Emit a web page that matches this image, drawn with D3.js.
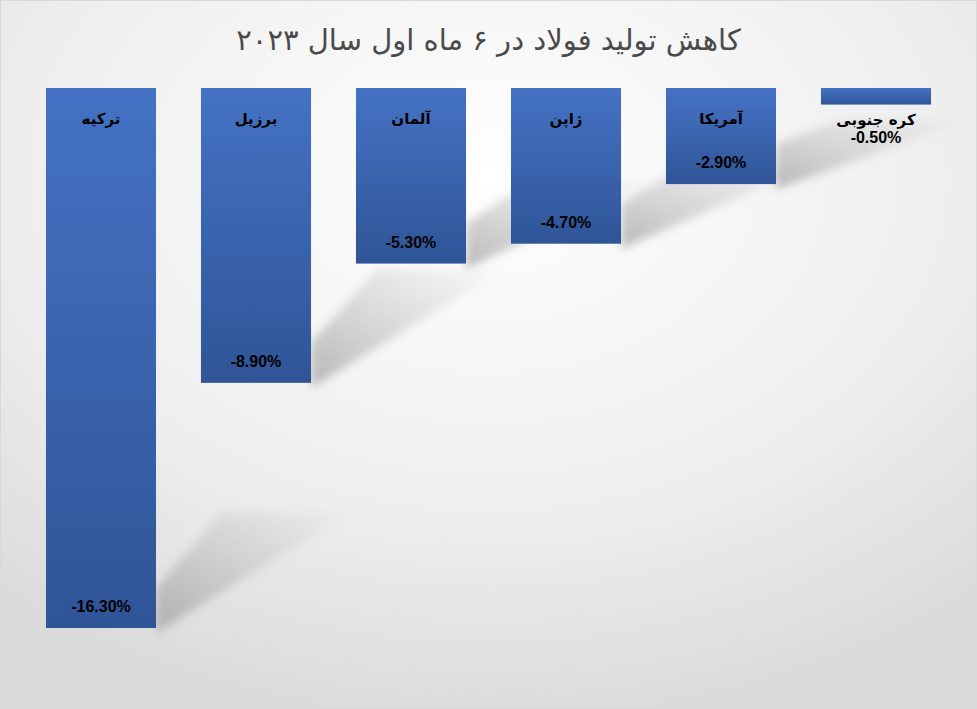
<!DOCTYPE html>
<html><head><meta charset="utf-8">
<script src="https://cdn.jsdelivr.net/npm/d3@7/dist/d3.min.js"></script>
<style>body{margin:0;background:#fff}svg{display:block}</style>
</head><body>
<script>
const categories = ["ترکیه","برزیل","آلمان","ژاپن","آمریکا","کره جنوبی"];
const values = [-16.3,-8.9,-5.3,-4.7,-2.9,-0.5];
const labels = ["-16.30%","-8.90%","-5.30%","-4.70%","-2.90%","-0.50%"];
const W=977,H=709;
const svg=d3.select("body").append("svg").attr("width",W).attr("height",H);
const defs=svg.append("defs");
const rg=defs.append("radialGradient").attr("id","bg").attr("cx","50%").attr("cy","25%").attr("r","80%");
rg.append("stop").attr("offset","0%").attr("stop-color","#ffffff");
rg.append("stop").attr("offset","60%").attr("stop-color","#eeeeee");
rg.append("stop").attr("offset","100%").attr("stop-color","#d9d9d9");
const bg=defs.append("linearGradient").attr("id","bar").attr("x1",0).attr("y1",0).attr("x2",0).attr("y2",1);
bg.append("stop").attr("offset","0%").attr("stop-color","#4472c4");
bg.append("stop").attr("offset","100%").attr("stop-color","#2f5597");
defs.append("filter").attr("id","blur").append("feGaussianBlur").attr("stdDeviation",5);
const sg=defs.append("linearGradient").attr("id","sh").attr("x1",0).attr("y1",1).attr("x2",1).attr("y2",0);
sg.append("stop").attr("offset","0%").attr("stop-color","#999").attr("stop-opacity",0.9);
sg.append("stop").attr("offset","100%").attr("stop-color","#bbb").attr("stop-opacity",0.05);
svg.append("rect").attr("x",0.5).attr("y",0.5).attr("width",W-1).attr("height",H-1).attr("fill","url(#bg)").attr("stroke","#d9d9d9");
svg.append("text").attr("x",W/2).attr("y",50).attr("text-anchor","middle").attr("font-family","DejaVu Sans").attr("font-size",29).attr("fill","#4a4a4a").attr("direction","rtl").text("کاهش تولید فولاد در ۶ ماه اول سال ۲۰۲۳");
const x=d3.scaleBand().domain(categories).range([23.5,953.5]).paddingInner(0.29).paddingOuter(0.145);
const y=d3.scaleLinear().domain([0,-16.3]).range([88,628]);
const g=svg.append("g");
categories.forEach((c,i)=>{
  const v=values[i]; if(v>-1) return;
  const x0=x(c)+x.bandwidth(), yb=y(v), bw=x.bandwidth();
  const dy=Math.min(75,(yb-88)*0.25);
  g.append("path").attr("d",`M${x0},${yb-40} L${x0+bw*0.6},${yb-dy-40} L${x0+bw*1.75},${yb-dy-40} L${x0},${yb+5}Z`)
   .attr("fill","url(#sh)").attr("filter","url(#blur)").attr("opacity",0.75);
});
g.selectAll("rect.b").data(values).join("rect").attr("class","b")
 .attr("x",(d,i)=>x(categories[i])).attr("width",x.bandwidth())
 .attr("y",y(0)).attr("height",d=>y(d)-y(0)).attr("fill","url(#bar)");
categories.forEach((c,i)=>{
  const cx=x(c)+x.bandwidth()/2, small=values[i]>-1;
  g.append("text").attr("x",cx).attr("y",small?125:124).attr("text-anchor","middle").attr("font-family","DejaVu Sans").attr("font-weight","bold").attr("font-size",15).attr("fill","#000").attr("direction","rtl").text(c);
  g.append("text").attr("x",cx).attr("y",small?143:y(values[i])-16).attr("text-anchor","middle").attr("font-family","Liberation Sans, Arial").attr("font-weight","bold").attr("font-size",16).attr("fill","#000").text(labels[i]);
});
</script></body></html>
